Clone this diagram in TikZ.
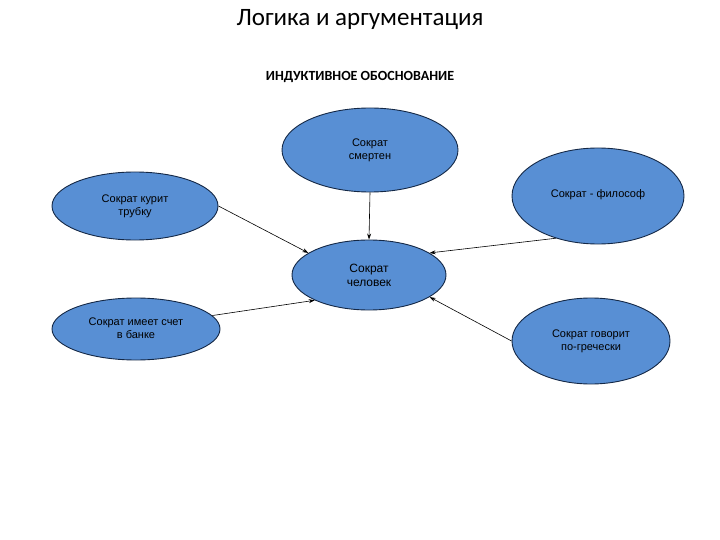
\documentclass[tikz,border=0pt]{standalone}
\usepackage{fontspec}
\setmainfont{Liberation Sans}
\newfontfamily\titlefont{Carlito}
\usetikzlibrary{shapes.geometric,arrows.meta}
\definecolor{bub}{RGB}{88,143,212}
\definecolor{bubline}{RGB}{20,40,70}
\tikzset{
  bubble/.style={ellipse,draw=bubline,line width=0.9pt,fill=bub,inner sep=0pt,align=center,font=\fontsize{11pt}{13pt}\selectfont},
  conn/.style={-{Stealth[length=6pt,width=4pt]},line width=0.6pt,black}
}
\begin{document}
\begin{tikzpicture}[x=1pt,y=-1pt]
\useasboundingbox (0,0) rectangle (720,540);
\node (title) at (360,20) {\titlefont\fontsize{25pt}{28pt}\selectfont Логика и аргументация};
\node (sub) at (360,77) {\titlefont\bfseries\fontsize{14pt}{16pt}\selectfont ИНДУКТИВНОЕ ОБОСНОВАНИЕ};
\node[bubble,minimum width=176pt,minimum height=84pt] (mort) at (370,150) {Сократ\\смертен};
\node[bubble,minimum width=166pt,minimum height=68pt] (pipe) at (135,206) {\raisebox{10pt}{\begin{tabular}{@{}c@{}}Сократ курит\\трубку\end{tabular}}};
\node[bubble,minimum width=172pt,minimum height=96pt] (phil) at (598,196) {\raisebox{4pt}{Сократ - философ}};
\node[bubble,minimum width=154pt,minimum height=70pt] (man) at (369,275) {\fontsize{12pt}{14pt}\selectfont Сократ\\[1pt]\fontsize{12pt}{14pt}\selectfont человек};
\node[bubble,minimum width=168pt,minimum height=62pt] (bank) at (136,329) {\raisebox{6pt}{\begin{tabular}{@{}c@{}}Сократ имеет счет\\в банке\end{tabular}}};
\node[bubble,minimum width=158pt,minimum height=86pt] (greek) at (591,341) {Сократ говорит\\по-гречески};
\draw[conn] (mort.south) -- (man.north);
\draw[conn] (pipe.east) -- (man.160);
\draw[conn] (phil.225) -- (man.20);
\draw[conn] (bank.10) -- (man.205);
\draw[conn] (greek.180) -- (man.340);
\end{tikzpicture}
\end{document}
